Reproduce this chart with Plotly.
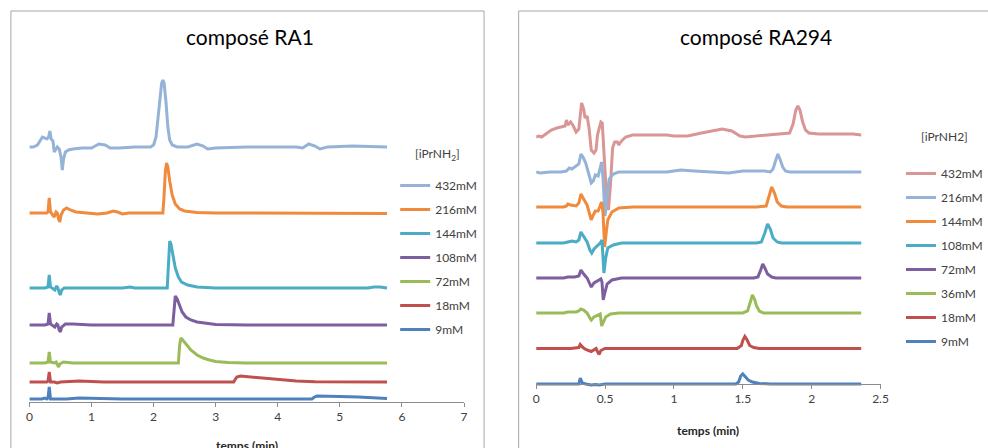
import plotly.graph_objects as go

# ---------------- DATA ----------------
# Composé RA1 : (time in min, signal) pairs
ra1_labels = ["432mM", "216mM", "144mM", "108mM", "72mM", "18mM", "9mM"]
ra1_stack_offset = [255, 189, 114, 77, 39, 20, 3]

ra1_432 = [(0.00, 0), (0.06, 0), (0.13, 2), (0.18, 7), (0.21, 10), (0.25, 9), (0.28, 8), (0.31, 10),
           (0.33, 16), (0.35, 8), (0.38, 6), (0.40, -5), (0.43, -1), (0.45, 0), (0.48, -2), (0.51, -10),
           (0.53, -23), (0.55, -12), (0.58, -5), (0.63, -3), (0.70, -2), (0.85, -1), (1.00, -1), (1.12, 3),
           (1.22, 2), (1.30, -1), (1.45, -1), (1.70, 0), (1.95, 0), (2.00, 2), (2.04, 10), (2.07, 28),
           (2.10, 50), (2.13, 64), (2.15, 67), (2.17, 64), (2.20, 45), (2.23, 20), (2.26, 7), (2.30, 2),
           (2.38, 0), (2.55, 0), (2.70, 3), (2.80, 1), (2.87, -2), (3.00, -1), (3.50, 0), (4.00, 0),
           (4.30, 0), (4.40, -1), (4.50, 3), (4.60, 1), (4.68, -2), (4.80, 0), (5.20, 1), (5.76, 0)]
ra1_216 = [(0.00, 0), (0.20, 0), (0.28, 0), (0.30, 1), (0.32, 15), (0.34, 1), (0.37, -1), (0.40, -4),
           (0.43, 1), (0.45, 0), (0.47, -6), (0.49, -9), (0.51, -2), (0.55, 3), (0.60, 5), (0.66, 3),
           (0.75, 1), (0.90, 0), (1.10, -1), (1.25, 0), (1.35, 2), (1.42, 1), (1.50, -1), (1.60, 0),
           (2.15, 0), (2.17, 18), (2.19, 42), (2.21, 50), (2.23, 46), (2.26, 32), (2.30, 18), (2.35, 9),
           (2.42, 4), (2.50, 2), (2.70, 0.5), (3.00, 0), (5.76, -0.5)]
ra1_144 = [(0.00, 0), (0.25, 0), (0.30, 1), (0.32, 13), (0.34, 1), (0.38, -1), (0.41, -2), (0.44, 2),
           (0.46, 0), (0.48, -5), (0.50, -7), (0.52, -2), (0.56, 0), (1.00, 0), (1.50, 0), (1.62, 1),
           (1.70, 0), (2.22, 0), (2.24, 25), (2.26, 47), (2.28, 44), (2.31, 33), (2.35, 20), (2.40, 11),
           (2.45, 6), (2.55, 3), (2.70, 1), (3.00, 0), (5.30, 0), (5.45, 0), (5.55, 1), (5.65, 1), (5.76, 0)]
ra1_108 = [(0.00, 0), (0.25, 0), (0.30, 1), (0.32, 12), (0.34, 1), (0.38, -1), (0.41, -2), (0.44, 1),
           (0.46, 0), (0.48, -5), (0.50, -7), (0.52, -2), (0.58, 1), (0.70, 1), (1.00, 0), (2.31, 0),
           (2.33, 20), (2.35, 29), (2.38, 26), (2.42, 19), (2.46, 13), (2.52, 8), (2.60, 5), (2.70, 3),
           (2.85, 1.5), (3.00, 0.5), (3.50, 0), (5.76, 0)]
ra1_72 = [(0.00, 0), (0.25, 0), (0.30, 1), (0.32, 11), (0.34, 1), (0.40, 0), (0.43, 1), (0.45, -2),
          (0.47, -4), (0.49, -1), (0.55, 1), (0.70, 0), (2.40, 0), (2.42, 18), (2.44, 25), (2.47, 23),
          (2.52, 19), (2.60, 13), (2.70, 8), (2.80, 5), (2.90, 3), (3.00, 1.5), (3.20, 0.5), (3.50, 0),
          (5.76, 0)]
ra1_18 = [(0.00, 0), (0.28, 0), (0.30, 1), (0.32, 10), (0.34, 0), (0.40, 0), (0.45, -1), (0.50, 0),
          (0.80, 1), (1.20, 0), (3.29, 0), (3.31, 2), (3.34, 5), (3.40, 6), (3.50, 5.5), (3.70, 4.5),
          (3.90, 3.2), (4.10, 2), (4.30, 1), (4.60, 0.3), (5.00, 0), (5.76, 0)]
ra1_9 = [(0.00, 0), (0.20, 0), (0.25, 1), (0.28, 0), (0.30, 1), (0.32, 12), (0.34, 0), (0.45, 0),
         (0.60, 0), (0.80, 1), (1.00, 0.5), (1.50, 0), (4.55, 0), (4.58, 1.5), (4.63, 3), (4.80, 3),
         (5.00, 2.5), (5.30, 2), (5.60, 1), (5.76, 0.5)]
ra1_series = [ra1_432, ra1_216, ra1_144, ra1_108, ra1_72, ra1_18, ra1_9]
ra1_colors = ["#95B3D7", "#F08A3C", "#4BACC6", "#7D5FA0", "#9BBB59", "#C0504D", "#4F81BD"]

# Composé RA294
ra294_labels = ["432mM", "216mM", "144mM", "108mM", "72mM", "36mM", "18mM", "9mM"]
ra294_stack_offset = [250, 212, 177, 141, 106, 71, 35.5, 0]

ra294_432 = [(0.00, -3), (0.02, -2), (0.04, -3), (0.07, 0), (0.11, 4), (0.15, 6), (0.19, 7), (0.21, 8),
             (0.22, 14), (0.23, 9), (0.25, 12), (0.27, 8), (0.29, 2), (0.31, 5), (0.33, 31), (0.345, 25),
             (0.355, 16), (0.37, 18), (0.385, 5), (0.40, -16), (0.42, -19), (0.435, -16), (0.445, -1),
             (0.46, 8), (0.47, 12), (0.48, 11), (0.495, -20), (0.51, -60), (0.525, -76), (0.54, -50),
             (0.555, -14), (0.57, -8), (0.59, -8), (0.60, -11), (0.62, -7), (0.65, -3), (0.70, -1),
             (0.80, -1), (0.95, -1), (1.00, -2), (1.10, -2), (1.20, 1), (1.30, 4), (1.35, 5), (1.42, 3),
             (1.48, -2), (1.52, -3), (1.60, -2), (1.70, -1), (1.80, 0), (1.84, 1), (1.865, 10),
             (1.885, 24), (1.90, 28), (1.915, 24), (1.935, 12), (1.955, 4), (1.98, 1), (2.05, 0),
             (2.30, 0), (2.36, -1)]
ra294_216 = [(0.00, 0), (0.03, -1), (0.10, 0), (0.18, 0), (0.22, 1), (0.24, 4), (0.26, 3), (0.29, 6),
             (0.31, 8), (0.325, 18), (0.34, 15), (0.36, 9), (0.38, 0), (0.40, -11), (0.415, -9),
             (0.43, -3), (0.45, -4), (0.465, 4), (0.475, 10), (0.485, -5), (0.50, -44), (0.515, -25),
             (0.53, -7), (0.56, -2), (0.60, 0), (0.80, 0), (0.95, 0), (1.00, 1), (1.05, 2), (1.15, 1),
             (1.30, 0), (1.40, -1), (1.50, 1), (1.60, 1), (1.66, 1), (1.70, 0), (1.72, 3), (1.74, 12),
             (1.755, 18), (1.77, 13), (1.79, 5), (1.81, 1), (1.84, 0), (2.36, 0)]
ra294_144 = [(0.00, 0), (0.10, 0), (0.20, 0), (0.22, 1), (0.23, 3), (0.25, 2), (0.29, 1), (0.31, 4),
             (0.325, 13), (0.345, 8), (0.37, 2), (0.39, -8), (0.40, -13), (0.415, -8), (0.43, -4),
             (0.45, -4), (0.465, 1), (0.475, 5), (0.485, -5), (0.497, -40), (0.51, -24), (0.52, -13),
             (0.55, -5), (0.60, -1), (0.70, 0), (1.60, 0), (1.67, 1), (1.69, 10), (1.71, 20), (1.73, 14),
             (1.75, 5), (1.78, 1), (1.82, 0), (2.36, 0)]
ra294_108 = [(0.00, 0), (0.10, 0), (0.20, 0), (0.23, 1), (0.26, 2), (0.29, 1), (0.31, 3), (0.325, 11),
             (0.345, 6), (0.37, 1), (0.39, -7), (0.404, -10), (0.42, -6), (0.445, -3), (0.465, 0),
             (0.478, 3), (0.484, -8), (0.492, -30), (0.505, -15), (0.52, -5), (0.56, -2), (0.62, 0),
             (1.60, 0), (1.635, 1), (1.66, 10), (1.68, 19), (1.70, 14), (1.72, 5), (1.75, 1), (1.78, 0),
             (2.36, 0)]
ra294_72 = [(0.00, 0), (0.20, 0), (0.23, 1), (0.28, 1), (0.31, 2), (0.325, 8), (0.345, 4), (0.37, 0),
            (0.39, -6), (0.40, -9), (0.42, -5), (0.445, -3), (0.47, -1), (0.478, -4), (0.487, -22),
            (0.50, -14), (0.515, -6), (0.55, -2), (0.62, 0), (1.58, 0), (1.61, 1), (1.63, 8),
            (1.645, 14), (1.66, 10), (1.68, 4), (1.71, 1), (1.74, 0), (2.36, 0)]
ra294_36 = [(0.00, 0), (0.20, 0), (0.23, 1), (0.29, 1), (0.31, 2), (0.325, 4), (0.345, 3), (0.37, 0),
            (0.39, -5), (0.40, -7), (0.42, -4), (0.445, -2), (0.465, -1), (0.476, -13), (0.49, -9),
            (0.505, -4), (0.54, -1), (0.60, 0), (1.50, 0), (1.535, 2), (1.555, 11), (1.57, 18),
            (1.585, 14), (1.60, 7), (1.62, 2), (1.65, 0), (2.36, 0)]
ra294_18 = [(0.00, 0), (0.25, 0), (0.31, 1), (0.32, 4), (0.34, 1), (0.36, -1), (0.40, -3), (0.42, -1),
            (0.435, 0), (0.445, -3), (0.457, -6), (0.47, -2), (0.50, 0), (1.46, 0), (1.49, 3), (1.50, 8),
            (1.515, 12), (1.53, 9), (1.55, 3), (1.58, 1), (1.62, 0), (2.36, 0)]
ra294_9 = [(0.00, 0), (0.25, 0), (0.31, 0), (0.32, 6), (0.335, 1), (0.36, 0), (0.40, -1), (0.43, -0.5),
           (0.46, -1), (0.50, 0), (1.45, 0), (1.47, 2), (1.485, 8), (1.50, 10), (1.515, 8), (1.54, 4),
           (1.57, 2), (1.62, 0.5), (1.70, 0), (2.36, 0)]
ra294_series = [ra294_432, ra294_216, ra294_144, ra294_108, ra294_72, ra294_36, ra294_18, ra294_9]
ra294_colors = ["#D99694", "#95B3D7", "#F08A3C", "#4BACC6", "#7D5FA0", "#9BBB59", "#C0504D", "#4F81BD"]

ra1_xticks = [0, 1, 2, 3, 4, 5, 6, 7]
ra294_xticks = [0, 0.5, 1, 1.5, 2, 2.5]

# ---------------- FIGURE ----------------
W, H = 988, 448
def px(x):
    return x / W
def py(y):
    return 1 - y / H

FONT = "Lato, 'Open Sans', sans-serif"
fig = go.Figure()

for i, (pts, lab, col, off) in enumerate(zip(ra1_series, ra1_labels, ra1_colors, ra1_stack_offset)):
    fig.add_trace(go.Scatter(
        x=[p[0] for p in pts], y=[p[1] + off for p in pts], mode="lines", name=lab,
        line=dict(color=col, width=3), xaxis="x", yaxis="y",
        legend="legend", legendgroup="a%d" % i, hoverinfo="skip"))

for i, (pts, lab, col, off) in enumerate(zip(ra294_series, ra294_labels, ra294_colors, ra294_stack_offset)):
    fig.add_trace(go.Scatter(
        x=[p[0] for p in pts], y=[p[1] + off for p in pts], mode="lines", name=lab,
        line=dict(color=col, width=3), xaxis="x2", yaxis="y2",
        legend="legend2", legendgroup="b%d" % i, hoverinfo="skip"))

axis_common = dict(showline=True, linecolor="#8C8C8C", linewidth=1, ticks="outside", ticklen=4,
                   tickcolor="#8C8C8C", showgrid=False, zeroline=False, anchor="free",
                   tickfont=dict(family=FONT, size=12, color="#404040"), fixedrange=True)

legend_common = dict(xanchor="left", yanchor="top", bgcolor="rgba(0,0,0,0)",
                     font=dict(family=FONT, size=12, color="#404040"), traceorder="grouped",
                     tracegroupgap=5, itemwidth=30)

fig.update_layout(
    width=W, height=H, margin=dict(l=0, r=0, t=0, b=0),
    paper_bgcolor="white", plot_bgcolor="white",
    xaxis=dict(domain=[px(26.7), px(466.7)], range=[0, 7], tickvals=ra1_xticks,
               position=py(402), **axis_common),
    yaxis=dict(domain=[py(415), py(11)], range=[-13, 391], visible=False, fixedrange=True),
    xaxis2=dict(domain=[px(539.7), px(888.3)], range=[0, 2.5], tickvals=ra294_xticks,
                position=py(384), **axis_common),
    yaxis2=dict(domain=[py(397), py(11)], range=[-13, 373], visible=False, fixedrange=True),
    legend=dict(x=px(397), y=py(171), **legend_common),
    legend2=dict(x=px(909), y=py(159), **legend_common),
    showlegend=True,
)

# panel frames
fig.add_shape(type="rect", xref="paper", yref="paper", x0=px(8), x1=px(487), y0=-0.2, y1=py(11),
              line=dict(color="#A6A6A6", width=1), layer="below")
fig.add_shape(type="rect", xref="paper", yref="paper", x0=px(522), x1=1.2, y0=-0.2, y1=py(11),
              line=dict(color="#A6A6A6", width=1), layer="below")

# titles
fig.add_annotation(text="composé RA1", x=px(250), y=py(37), xref="paper", yref="paper",
                   showarrow=False, xanchor="center", yanchor="middle",
                   font=dict(family=FONT, size=21, color="#000000"))
fig.add_annotation(text="composé RA294", x=px(762), y=py(37), xref="paper", yref="paper",
                   showarrow=False, xanchor="center", yanchor="middle",
                   font=dict(family=FONT, size=21, color="#000000"))
# legend titles
fig.add_annotation(text="[iPrNH<sub>2</sub>]", x=px(440), y=py(154), xref="paper", yref="paper",
                   showarrow=False, xanchor="center", yanchor="middle",
                   font=dict(family=FONT, size=12, color="#404040"))
fig.add_annotation(text="[iPrNH2]", x=px(953), y=py(136), xref="paper", yref="paper",
                   showarrow=False, xanchor="center", yanchor="middle",
                   font=dict(family=FONT, size=12, color="#404040"))
# axis titles
fig.add_annotation(text="<b>temps (min)</b>", x=px(247), y=py(445), xref="paper", yref="paper",
                   showarrow=False, xanchor="center", yanchor="middle",
                   font=dict(family=FONT, size=12, color="#262626"))
fig.add_annotation(text="<b>temps (min)</b>", x=px(714), y=py(430), xref="paper", yref="paper",
                   showarrow=False, xanchor="center", yanchor="middle",
                   font=dict(family=FONT, size=12, color="#262626"))

fig.write_html("out.html", config={"displayModeBar": False},
               post_script="document.body.style.margin='0';document.body.style.overflow='hidden';")
